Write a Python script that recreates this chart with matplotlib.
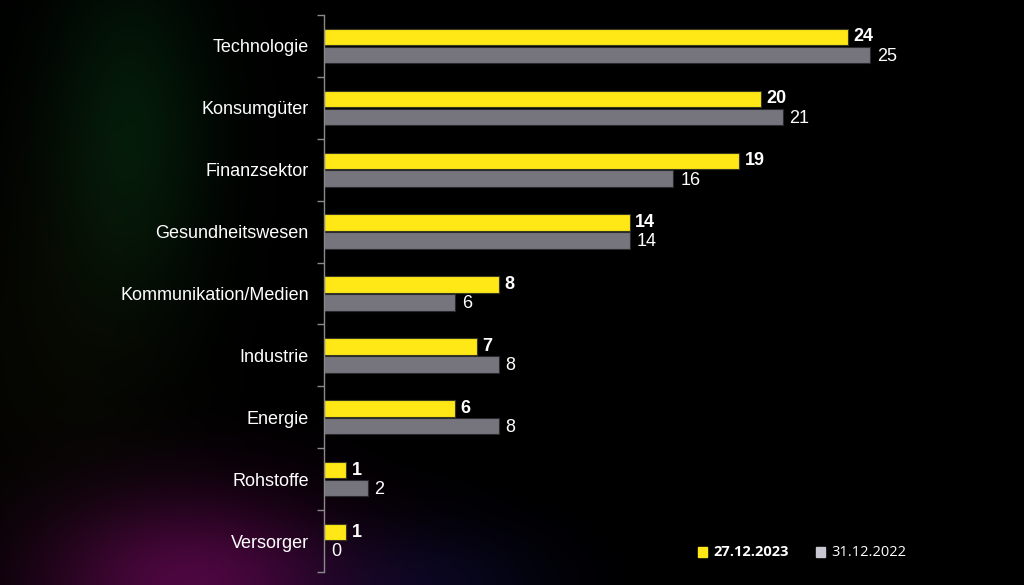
import numpy as np
import matplotlib
matplotlib.use("Agg")
import matplotlib.pyplot as plt
from matplotlib.patches import Rectangle

categories = ["Technologie", "Konsumgüter", "Finanzsektor", "Gesundheitswesen",
              "Kommunikation/Medien", "Industrie", "Energie", "Rohstoffe", "Versorger"]
values_2023 = [24, 20, 19, 14, 8, 7, 6, 1, 1]
values_2022 = [25, 21, 16, 14, 6, 8, 8, 2, 0]
series_labels = ["27.12.2023", "31.12.2022"]

YELLOW = "#FFE815"
GRAY = "#76757E"
LEG_GRAY = "#C9C8D2"

W, H = 1024, 585
fig = plt.figure(figsize=(W / 100, H / 100), dpi=100)
fig.patch.set_facecolor("black")

# subtle background glow
bg = fig.add_axes([0, 0, 1, 1], zorder=0)
yy, xx = np.mgrid[0:H, 0:W]
img = np.zeros((H, W, 3))
def glow(cx, cy, sx, sy, color, amp):
    g = np.exp(-(((xx - cx) / sx) ** 2 + ((yy - cy) / sy) ** 2))
    for i in range(3):
        img[..., i] += amp * color[i] * g
glow(130, 130, 80, 170, (0.05, 0.40, 0.15), 0.25)
glow(60, 330, 120, 200, (0.25, 0.25, 0.05), 0.10)
glow(190, 585, 150, 90, (0.60, 0.05, 0.50), 0.50)
glow(430, 585, 120, 60, (0.10, 0.10, 0.45), 0.25)
bg.imshow(np.clip(img, 0, 1), extent=[0, W, H, 0], aspect="auto")
bg.axis("off")

left = 324 / W
bottom = 1 - 572 / H
top = 1 - 15 / H
right = (324 + 21.84 * 30) / W
ax = fig.add_axes([left, bottom, right - left, top - bottom], zorder=1)
ax.set_facecolor("none")

n = len(categories)
y = np.arange(n)
off = 0.145
h = 0.265
ax.barh(y - off, values_2023, height=h, color=YELLOW, edgecolor="#3a3a20", linewidth=0.8)
ax.barh(y + off, values_2022, height=h, color=GRAY, edgecolor="#2a2a2e", linewidth=0.8)

for yi, v in zip(y - off, values_2023):
    ax.annotate(str(v), (v, yi), xytext=(4, 0), textcoords="offset points",
                va="center", ha="left", color="white", fontsize=13, fontweight="bold",
                family="Liberation Sans")
for yi, v in zip(y + off, values_2022):
    ax.annotate(str(v), (v, yi), xytext=(5, -1), textcoords="offset points",
                va="center", ha="left", color="white", fontsize=13,
                family="Liberation Sans")

ax.set_xlim(0, 30)
ax.set_ylim(n - 0.5, -0.5)
ax.set_yticks(y)
ax.set_yticklabels(categories, color="white", fontsize=13, family="Liberation Sans")
ax.tick_params(axis="y", which="major", length=0, pad=11)
ax.set_yticks(np.arange(-0.5, n, 1), minor=True)
ax.tick_params(axis="y", which="minor", length=5, color="#8a8a8a", width=1)
ax.set_xticks([])
for s in ["top", "right", "bottom"]:
    ax.spines[s].set_visible(False)
ax.spines["left"].set_color("#8a8a8a")
ax.spines["left"].set_linewidth(1)

# legend
def leg_item(x0, color, label, bold):
    fig.patches.append(Rectangle((x0 / W, 1 - 557 / H), 9 / W, 10 / H,
                                 transform=fig.transFigure, color=color, zorder=3))
    fig.text((x0 + 15) / W, 1 - 552 / H, label, color="white", fontsize=10.5,
             fontweight="bold" if bold else "normal", va="center", ha="left",
             family="Open Sans", zorder=3)
leg_item(698, YELLOW, series_labels[0], True)
leg_item(816, LEG_GRAY, series_labels[1], False)

fig.savefig("out.png", dpi=100, facecolor="black")
